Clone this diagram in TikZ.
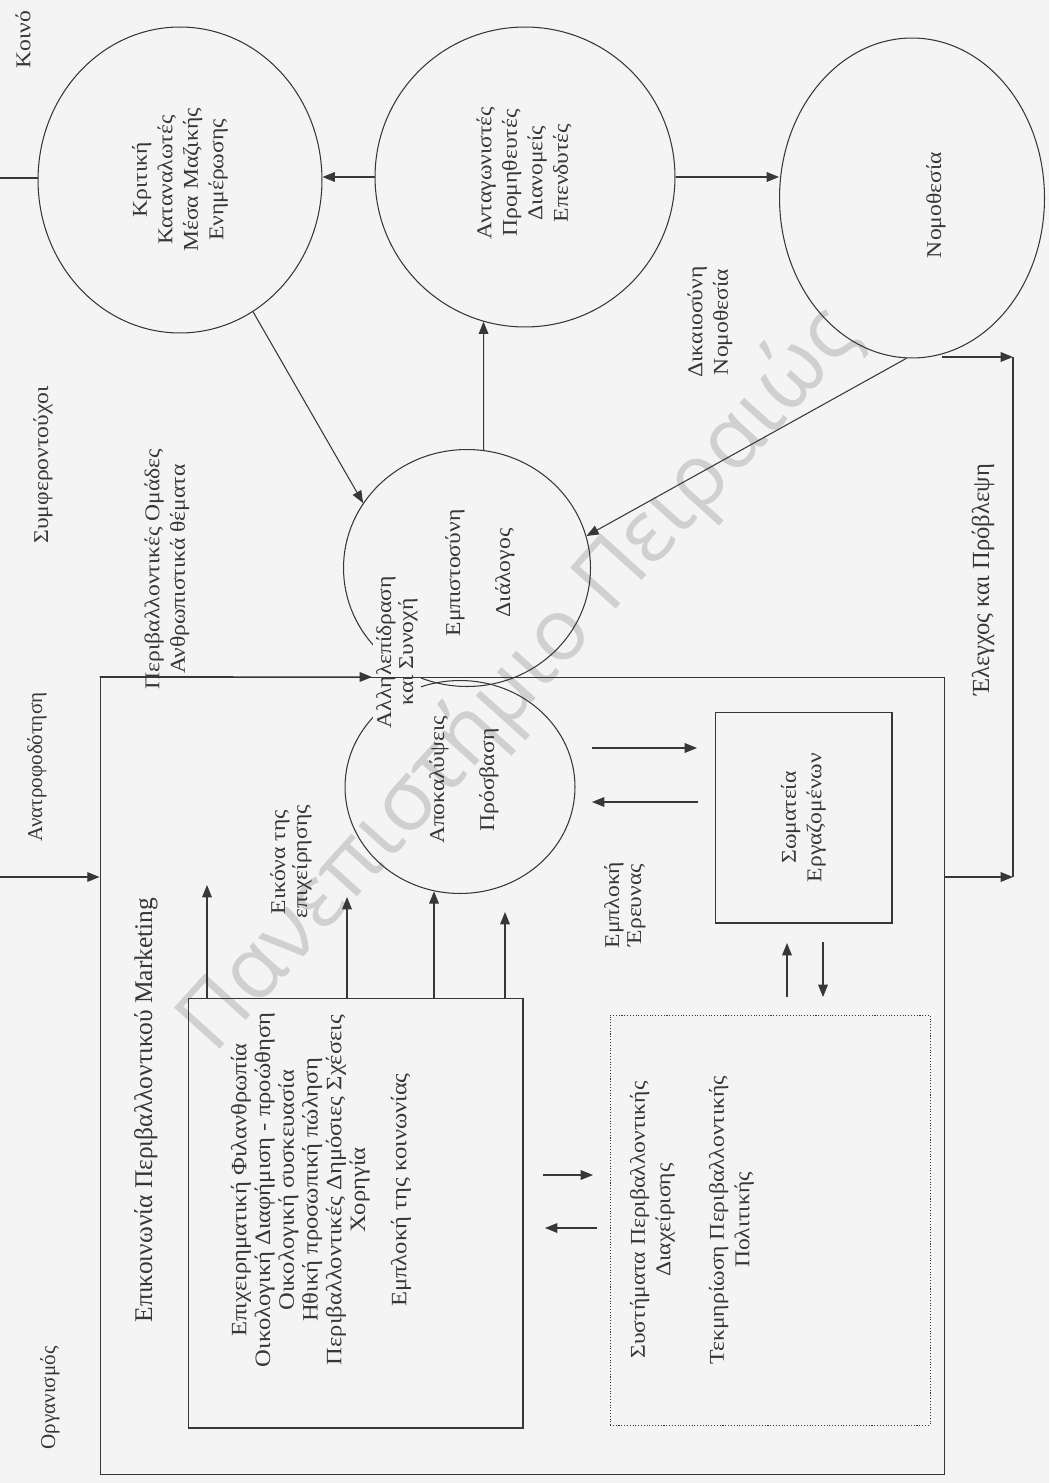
\documentclass[tikz,border=0pt]{standalone}
\usepackage{fontspec}
\setmainfont{Liberation Serif}
\newfontfamily\widefont[FakeStretch=1.12]{Liberation Serif}
\newfontfamily\wmfont{Open Sans}
\usetikzlibrary{shapes.geometric,arrows.meta}
\definecolor{paper}{RGB}{244,244,244}
\definecolor{ink}{RGB}{55,55,55}
\definecolor{wm}{RGB}{208,208,208}
\begin{document}
\begin{tikzpicture}[x=0.02cm,y=-0.02cm,
  line width=0.6pt,
  ell/.style={draw=ink, ellipse, inner sep=0pt, line width=0.6pt},
  boxnode/.style={draw=ink, rectangle, inner sep=0pt, line width=0.6pt},
  txt/.style={rotate=90, align=center, inner sep=1pt, text=ink, font=\widefont\fontsize{12}{14.5}\selectfont},
  tms/.style={rotate=90, align=center, inner sep=1pt, text=ink, font=\fontsize{13}{15}\selectfont},
  arr/.style={draw=ink, -{Triangle[length=7pt,width=5.5pt]}},
  plain/.style={draw=ink},
]
\fill[paper] (0,0) rectangle (1049,1483);
\useasboundingbox (0,0) rectangle (1049,1483);

% watermark across the page
\node[rotate=48, text=wm, font=\wmfont\fontsize{49}{49}\selectfont] (wmark) at (520,680) {Πανεπιστήμιο Πειραιώς};

% stakeholder circles
\node[ell, minimum width=5.68cm, minimum height=6.12cm] (C1) at (180,180) {};
\node[ell, minimum width=6.0cm, minimum height=6.0cm] (C2) at (525,177) {};
\node[ell, minimum width=5.30cm, minimum height=6.40cm] (C3) at (912,198) {};
\node[ell, minimum width=4.94cm, minimum height=4.74cm] (C4) at (467,568) {};
\node[ell, minimum width=4.60cm, minimum height=4.26cm] (C5) at (460,787) {};

% label that interrupts the two small circles
\node[txt, fill=paper, inner sep=2pt, font=\widefont\fontsize{12}{12.5}\selectfont] (tAS) at (397,652) {Αλληλεπίδραση\\και Συνοχή};

% boxes
\node[boxnode, minimum width=16.9cm, minimum height=15.96cm] (B) at (522.5,1076) {};
\node[boxnode, minimum width=6.7cm, minimum height=8.6cm] (IB) at (355.5,1213) {};
\node[boxnode, densely dotted, line width=0.5pt, minimum width=6.4cm, minimum height=8.2cm] (DB) at (770,1220) {};
\node[boxnode, minimum width=3.54cm, minimum height=4.22cm] (SB) at (803.5,817.5) {};

% texts
\node[txt] (tK) at (23,40) {Κοινό};
\node[txt] (tS) at (43,465) {Συμφεροντούχοι};
\node[txt] (tPO) at (167,569) {Περιβαλλοντικές Ομάδες\\Ανθρωπιστικά θέματα};
\node[txt] (t1) at (C1) {Κριτική\\Καταναλωτές\\Μέσα Μαζικής\\Ενημέρωσης};
\node[txt] (t2) at (524,173) {Ανταγωνιστές\\Προμηθευτές\\Διανομείς\\Επενδυτές};
\node[txt] (t3) at (936,205) {Νομοθεσία};
\node[txt] (tDN) at (710,322) {Δικαιοσύνη\\Νομοθεσία};
\node[txt] (t4) at (480,573) {Εμπιστοσύνη\\[14pt]Διάλογος};
\node[txt] (t5) at (464,780) {Αποκαλύψεις\\[14pt]Πρόσβαση};
\node[txt] (tSB) at (SB) {Σωματεία\\Εργαζομένων};
\node[txt, font=\widefont\fontsize{12}{12.5}\selectfont] (tER) at (625,905) {Εμπλοκή\\Έρευνας};
\node[txt, font=\widefont\fontsize{12}{12.5}\selectfont] (tEE) at (291,862) {Εικόνα της\\επιχείρησης};
\node[txt, font=\widefont\fontsize{12.5}{13.5}\selectfont] (tIB) at (321,1190) {Επιχειρηματική Φιλανθρωπία\\Οικολογική Διαφήμιση - προώθηση\\Οικολογική συσκευασία\\Ηθική προσωπική πώληση\\Περιβαλλοντικές Δημόσιες Σχέσεις\\Χορηγία\\[10pt]Εμπλοκή της κοινωνίας};
\node[txt] (tDB) at (692,1220) {Συστήματα Περιβαλλοντικής\\Διαχείρισης\\[16pt]Τεκμηρίωση Περιβαλλοντικής\\Πολιτικής};
\node[tms, font=\fontsize{14}{16}\selectfont] (tEP) at (983,580) {Έλεγχος και Πρόβλεψη};
\node[tms, font=\fontsize{12}{14}\selectfont] (tAN) at (37,767) {Ανατροφοδότηση};
\node[tms, font=\fontsize{14.5}{16}\selectfont] (tEM) at (146,1110) {Επικοινωνία Περιβαλλοντικού Marketing};
\node[tms, font=\fontsize{12}{14}\selectfont] (tOR) at (50,1398) {Οργανισμός};

% connectors between the circles
\draw[arr] (C2.west) -- (C2.west -| C1.east);
\draw[arr] (C2.east) -- (C2.east -| C3.west);
\draw[arr] (C4.82) -- (C2.254);
\draw[arr] (C1.-61) -- (C4.148);
\draw[arr] (C3.-92) -- (C4.15);

% public line at the top left
\coordinate (k0) at (0,178);
\draw[plain] (k0) -- (k0 -| C1.west);

% control and forecasting loop on the right
\coordinate (c3o) at (942,357);
\coordinate (r1) at (1013,357);
\coordinate (r2) at (1013,877);
\draw[arr] (c3o) -- (r1);
\draw[plain] (r1) -- (r2);
\draw[arr] (B.east |- r2) -- (r2);

% feedback into the organisation
\coordinate (a0) at (0,877);
\draw[arr] (a0) -- (a0 -| B.west);

% arrow tip on the organisation's top edge
\coordinate (bt) at (372,677);
\draw[arr] (B.north west) -- (bt);

% arrows rising from the marketing box
\coordinate (u1) at (207,885);
\coordinate (u2) at (347,897);
\coordinate (u4) at (505,912);
\draw[arr] (IB.north -| u1) -- (u1);
\draw[arr] (IB.north -| u2) -- (u2);
\draw[arr] (IB.north -| C5.256) -- (C5.256);
\draw[arr] (IB.north -| u4) -- (u4);

% exchange with the workers' unions
\coordinate (h1s) at (592,748); \coordinate (h1e) at (697,748);
\coordinate (h2s) at (698,802); \coordinate (h2e) at (592,802);
\draw[arr] (h1s) -- (h1e);
\draw[arr] (h2s) -- (h2e);
\coordinate (v1s) at (787,997); \coordinate (v1e) at (787,943);
\coordinate (v2s) at (823,942); \coordinate (v2e) at (823,997);
\draw[arr] (v1s) -- (v1e);
\draw[arr] (v2s) -- (v2e);

% exchange with the management systems
\coordinate (g1s) at (543,1175); \coordinate (g1e) at (593,1175);
\coordinate (g2s) at (597,1228); \coordinate (g2e) at (545,1228);
\draw[arr] (g1s) -- (g1e);
\draw[arr] (g2s) -- (g2e);
\end{tikzpicture}
\end{document}
